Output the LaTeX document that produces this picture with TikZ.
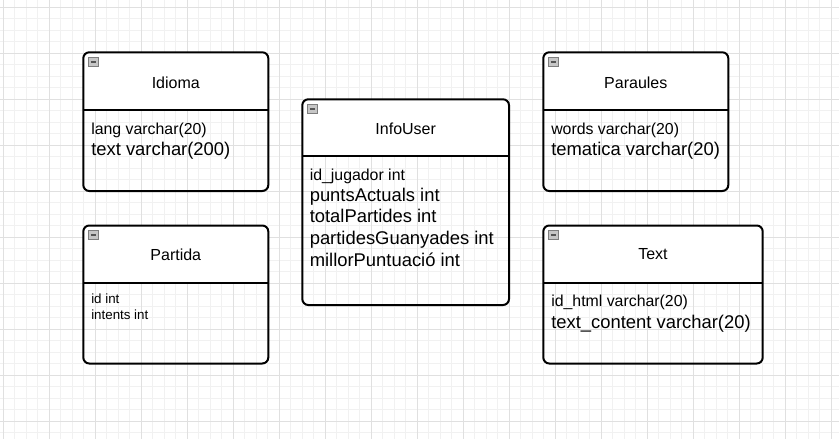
\documentclass[tikz,border=0pt]{standalone}
\usepackage{fontspec}
\setmainfont{Liberation Sans}
\definecolor{gridminor}{RGB}{241,241,241}
\definecolor{gridmajor}{RGB}{224,224,224}
\definecolor{icongrey}{RGB}{198,198,198}
\definecolor{iconedge}{RGB}{125,125,125}
\definecolor{iconmark}{RGB}{85,85,85}
\tikzset{
  minorline/.style={draw=gridminor, line width=0.75pt},
  majorline/.style={draw=gridmajor, line width=0.75pt},
  tablebox/.style={draw=black, line width=1.5pt, rounded corners=4.5pt},
  tablehead/.style={fill=white, rounded corners=4.5pt},
  tablerule/.style={draw=black, line width=1.5pt},
  iconbox/.style={draw=iconedge, fill=icongrey, line width=0.6pt},
  iconbar/.style={draw=iconmark, line width=1.4pt},
  tabletitle/.style={anchor=base, inner sep=0pt, font=\fontsize{12}{14}\selectfont},
  attrsmall/.style={anchor=base west, inner sep=0pt, font=\fontsize{11.9}{14}\selectfont},
  attrbig/.style={anchor=base west, inner sep=0pt, font=\fontsize{13.8}{16}\selectfont},
  attrtiny/.style={anchor=base west, inner sep=0pt, font=\fontsize{10}{12}\selectfont},
}
\begin{document}
\begin{tikzpicture}[x=0.75pt,y=0.75pt,yscale=-1,xscale=1]
\useasboundingbox (0,0) rectangle (839,439);
\fill[white] (0,0) rectangle (839,439);

%Grid: minor lines
\foreach \i in {0,...,72} \draw[minorline] ({3.3+11.5*\i},0) -- ({3.3+11.5*\i},439);
\foreach \j in {0,...,37} \draw[minorline] (0,{7.3+11.5*\j}) -- (839,{7.3+11.5*\j});
%Grid: major lines
\foreach \i in {0,...,18} \draw[majorline] ({3.3+46*\i},0) -- ({3.3+46*\i},439);
\foreach \j in {0,...,9} \draw[majorline] (0,{7.3+46*\j}) -- (839,{7.3+46*\j});

%Shape: Table Idioma
\begin{scope}
\clip (83.3,52.3) rectangle (268.3,110.3);
\fill[tablehead] (83.3,52.3) rectangle (268.3,191);
\end{scope}
\draw[tablebox] (83.3,52.3) rectangle (268.3,191);
\draw[tablerule] (83.3,110.3) -- (268.3,110.3);
\draw[iconbox] (88,57) rectangle (98,66.3);
\draw[iconbar] (90.5,61.6) -- (95.5,61.6);

%Shape: Table Paraules
\begin{scope}
\clip (543.3,52.3) rectangle (728.3,110.3);
\fill[tablehead] (543.3,52.3) rectangle (728.3,191);
\end{scope}
\draw[tablebox] (543.3,52.3) rectangle (728.3,191);
\draw[tablerule] (543.3,110.3) -- (728.3,110.3);
\draw[iconbox] (548,57) rectangle (558,66.3);
\draw[iconbar] (550.5,61.6) -- (555.5,61.6);

%Shape: Table InfoUser
\begin{scope}
\clip (302.3,99.3) rectangle (509,156);
\fill[tablehead] (302.3,99.3) rectangle (509,305);
\end{scope}
\draw[tablebox] (302.3,99.3) rectangle (509,305);
\draw[tablerule] (302.3,156) -- (509,156);
\draw[iconbox] (307,104) rectangle (317,113.3);
\draw[iconbar] (309.5,108.6) -- (314.5,108.6);

%Shape: Table Partida
\begin{scope}
\clip (83.3,225.5) rectangle (268.3,282.5);
\fill[tablehead] (83.3,225.5) rectangle (268.3,363.5);
\end{scope}
\draw[tablebox] (83.3,225.5) rectangle (268.3,363.5);
\draw[tablerule] (83.3,282.5) -- (268.3,282.5);
\draw[iconbox] (88,230.2) rectangle (98,239.5);
\draw[iconbar] (90.5,234.8) -- (95.5,234.8);

%Shape: Table Text
\begin{scope}
\clip (543.3,225.5) rectangle (762.7,282.5);
\fill[tablehead] (543.3,225.5) rectangle (762.7,363.5);
\end{scope}
\draw[tablebox] (543.3,225.5) rectangle (762.7,363.5);
\draw[tablerule] (543.3,282.5) -- (762.7,282.5);
\draw[iconbox] (548,230.2) rectangle (558,239.5);
\draw[iconbar] (550.5,234.8) -- (555.5,234.8);

% Text Node
\node[tabletitle] (idioma) at (175.8,88.3) {Idioma};
\node[attrsmall] (idioma-1) at (91,134.5) {lang varchar(20)};
\node[attrbig] (idioma-2) at (91,155) {text varchar(200)};
% Text Node
\node[tabletitle] (paraules) at (635.8,88.3) {Paraules};
\node[attrsmall] (paraules-1) at (551,134.5) {words varchar(20)};
\node[attrbig] (paraules-2) at (551,155) {tematica varchar(20)};
% Text Node
\node[tabletitle] (infouser) at (405.7,134.3) {InfoUser};
\node[attrsmall] (infouser-1) at (309.5,180) {id\_jugador int};
\node[attrbig] (infouser-2) at (309.5,201) {puntsActuals int};
\node[attrbig] (infouser-3) at (309.5,222.7) {totalPartides int};
\node[attrbig] (infouser-4) at (309.5,244.3) {partidesGuanyades int};
\node[attrbig] (infouser-5) at (309.5,266) {millorPuntuació int};
% Text Node
\node[tabletitle] (partida) at (175.8,260) {Partida};
\node[attrtiny] (partida-1) at (91,303.3) {id int};
\node[attrtiny] (partida-2) at (91,319.3) {intents int};
% Text Node
\node[tabletitle] (text) at (653,259.7) {Text};
\node[attrsmall] (text-1) at (551,306.3) {id\_html varchar(20)};
\node[attrbig] (text-2) at (551,328) {text\_content varchar(20)};

\end{tikzpicture}
\end{document}
